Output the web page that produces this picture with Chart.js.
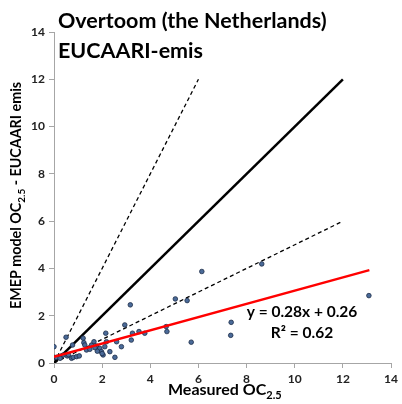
<!DOCTYPE html>
<html><head><meta charset="utf-8">
<script src="https://cdn.jsdelivr.net/npm/chart.js@4"></script>
<style>html,body{margin:0;padding:0;background:#fff}#wrap{width:402px;height:404px}</style>
</head><body><div id="wrap"><canvas id="c" width="402" height="404"></canvas></div>
<script>
const measuredX = [0,0,0.1,0.32,0.39,0.5,0.55,0.73,0.77,0.8,0.94,1.05,1.21,1.24,1.28,1.35,1.49,1.56,1.66,1.77,1.84,1.9,1.97,2.04,2.11,2.15,2.18,2.32,2.53,2.6,2.8,2.94,3.17,3.21,3.26,3.53,3.77,4.66,4.69,5.04,5.53,5.7,6.14,7.34,7.36,8.63,13.08,1.8,2.0,1.7,0.6,0.25];
const modelY   = [0.69,0.24,0.24,0.3,0.34,1.09,0.3,0.2,0.76,0.24,0.27,0.3,1.05,0.86,0.76,0.55,0.58,0.76,0.9,0.72,0.55,0.62,0.48,0.34,0.69,1.26,0.9,0.48,0.24,0.9,0.69,1.61,2.46,0.97,1.26,1.33,1.26,1.54,1.33,2.71,2.64,0.88,3.87,1.17,1.72,4.19,2.85,0.5,0.4,0.65,0.35,0.2];
const oneToOneX = [0,12];
const oneToOneY = [0,12];
const twoToOneX = [0,6];
const twoToOneY = [0,12];
const oneToTwoX = [0,12];
const oneToTwoY = [0,6];
const slope = 0.28, intercept = 0.26;
const fitX = [0,13.1];
const axisTicks = [0,2,4,6,8,10,12,14];
const titleLines = ["Overtoom (the Netherlands)","EUCAARI-emis"];
const eqText = "y = 0.28x + 0.26";
const r2Text = "R² = 0.62";

const pts = (xs,ys)=>xs.map((x,i)=>({x,y:ys[i]}));
const FONT = "Lato, 'Open Sans', sans-serif";

const textPlugin = {
  id:'texts',
  afterDraw(chart){
    const ctx = chart.ctx;
    ctx.save();
    ctx.fillStyle = '#000';
    ctx.textBaseline = 'alphabetic';
    ctx.textAlign = 'left';
    ctx.font = "bold 21.5px " + FONT;
    ctx.fillText(titleLines[0], 58, 28);
    ctx.fillText(titleLines[1], 58, 58);
    // equation
    ctx.textAlign = 'center';
    ctx.font = "bold 15.5px " + FONT;
    ctx.fillText(eqText, 302, 317);
    ctx.fillText(r2Text, 302, 338);
    // x axis title with subscript
    ctx.textAlign = 'left';
    let size = 16, ssize = 11;
    const m = "Measured OC", s = "2.5";
    ctx.font = "bold "+size+"px "+FONT; const w1 = ctx.measureText(m).width;
    ctx.font = "bold "+ssize+"px "+FONT; const w2 = ctx.measureText(s).width;
    const x0 = 168, yb = 395;
    ctx.font = "bold "+size+"px "+FONT; ctx.fillText(m, x0, yb);
    ctx.font = "bold "+ssize+"px "+FONT; ctx.fillText(s, x0 + w1, yb+4);
    // y axis title rotated
    ctx.translate(21, 195.5);
    ctx.rotate(-Math.PI/2);
    size = 14.3; ssize = 10;
    const a = "EMEP model OC", b = "2.5", c = " - EUCAARI emis";
    ctx.font = "bold "+size+"px "+FONT; const wa = ctx.measureText(a).width, wc = ctx.measureText(c).width;
    ctx.font = "bold "+ssize+"px "+FONT; const wb = ctx.measureText(b).width;
    const sx = -(wa+wb+wc)/2;
    ctx.font = "bold "+size+"px "+FONT; ctx.fillText(a, sx, 0);
    ctx.font = "bold "+ssize+"px "+FONT; ctx.fillText(b, sx+wa, 4);
    ctx.font = "bold "+size+"px "+FONT; ctx.fillText(c, sx+wa+wb, 0);
    ctx.restore();
  }
};

const axisCommon = {
  type:'linear', min:0, max:14,
  afterBuildTicks(scale){ scale.ticks = axisTicks.map(v=>({value:v})); },
  grid:{drawOnChartArea:false, drawTicks:true, tickLength:5, color:'#a6a6a6'},
  border:{display:true, color:'#a6a6a6', width:1},
  ticks:{color:'#222', font:{family:FONT, size:12, weight:'bold'}, padding:4}
};

new Chart(document.getElementById('c'), {
  data:{
    datasets:[
      {type:'line', label:'fit', data: pts(fitX, fitX.map(x=>slope*x+intercept)), borderColor:'#ff0000', borderWidth:2.5, pointRadius:0, fill:false, order:0},
      {type:'scatter', label:'obs', data: pts(measuredX, modelY), backgroundColor:'#4a6a98', borderColor:'#1c2c48', borderWidth:0.8, pointRadius:2.3, order:1},
      {type:'line', label:'1:1', data: pts(oneToOneX, oneToOneY), borderColor:'#000', borderWidth:2.5, pointRadius:0, fill:false, order:2},
      {type:'line', label:'2:1', data: pts(twoToOneX, twoToOneY), borderColor:'#000', borderWidth:1.3, borderDash:[4,3], pointRadius:0, fill:false, order:2},
      {type:'line', label:'1:2', data: pts(oneToTwoX, oneToTwoY), borderColor:'#000', borderWidth:1.3, borderDash:[4,3], pointRadius:0, fill:false, order:2}
    ]
  },
  options:{
    responsive:false, animation:false, devicePixelRatio:1,
    layout:{padding:{left:0,right:10,top:32,bottom:0}},
    plugins:{legend:{display:false}, tooltip:{enabled:false}},
    scales:{
      x:Object.assign({}, axisCommon, {afterFit(s){s.height=41;}}),
      y:Object.assign({}, axisCommon, {afterFit(s){s.width=54;}})
    }
  },
  plugins:[textPlugin]
});
</script></body></html>
